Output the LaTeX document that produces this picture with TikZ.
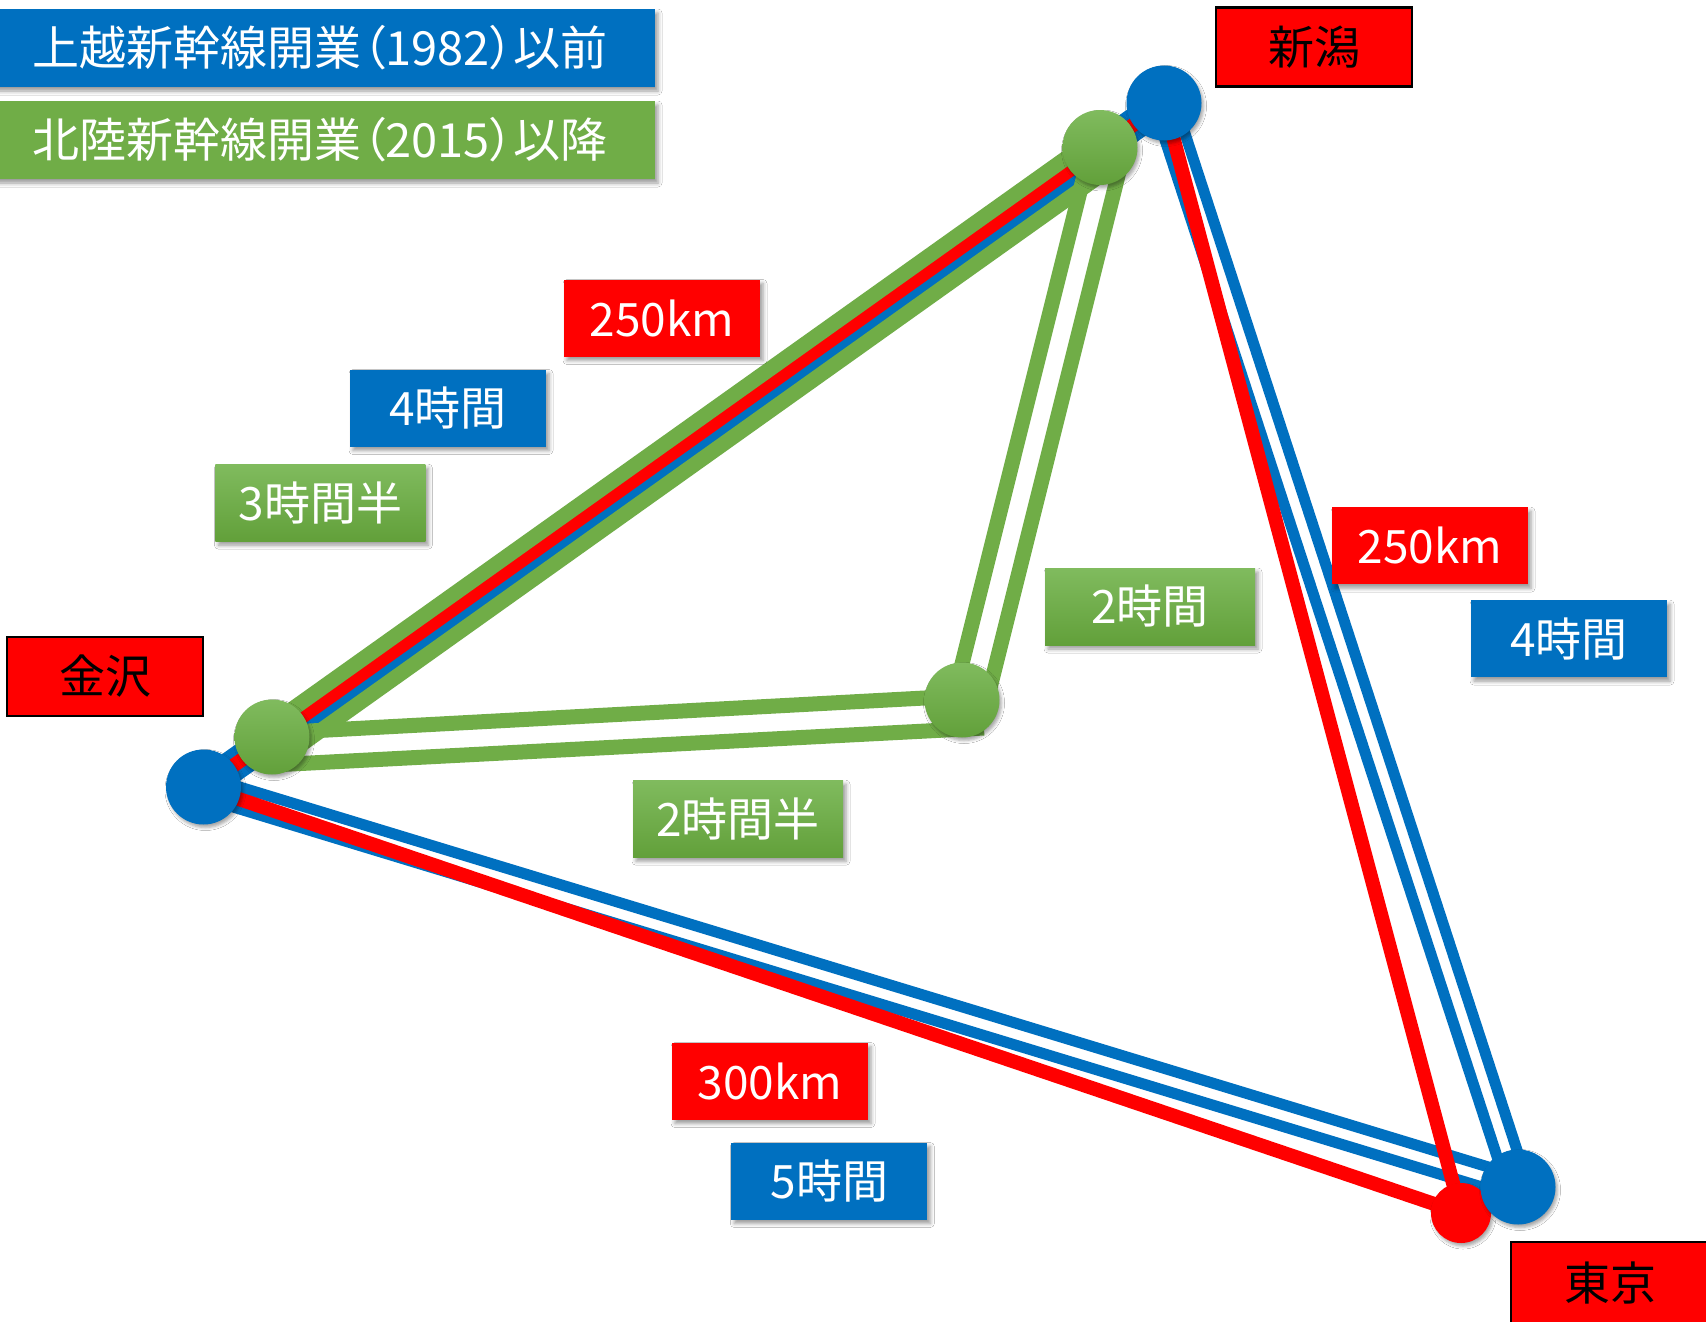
\documentclass[tikz,border=0pt]{standalone}
\usepackage{fontspec}
\setmainfont{Noto Sans CJK JP}
\newfontfamily\jpp{Noto Sans CJK JP}[RawFeature=+palt]
\usetikzlibrary{calc,shadows.blur}
\definecolor{cblue}{HTML}{0070C0}
\definecolor{cred}{HTML}{FF0000}
\definecolor{cgreen}{HTML}{70AD47}
\definecolor{cgtop}{HTML}{80BB5E}
\definecolor{cgbot}{HTML}{62A03A}
\tikzset{
  softshadow/.style={blur shadow={shadow xshift=3pt, shadow yshift=-4pt, shadow blur radius=4pt, shadow opacity=40}},
  lbl/.style={minimum width=196pt, minimum height=77pt, inner sep=0pt, text=white,
    font=\fontsize{46pt}{50pt}\selectfont, softshadow},
  redlbl/.style={lbl, fill=cred},
  bluelbl/.style={lbl, fill=cblue},
  greenlbl/.style={lbl, minimum width=210pt, top color=cgtop, bottom color=cgbot},
  place/.style={draw=black, line width=2.5pt, fill=cred, minimum width=196pt, minimum height=79pt,
    inner sep=0pt, text=black, font=\fontsize{46pt}{50pt}\selectfont},
  legendbox/.style={minimum width=670pt, minimum height=78pt, inner sep=0pt, text=white,
    font=\jpp\fontsize{47pt}{50pt}\selectfont, softshadow},
  bline/.style={draw=cblue, line width=11pt},
  rline/.style={draw=cred, line width=14pt},
  gline/.style={draw=cgreen, line width=15pt},
  stn/.style={circle, minimum size=75pt, inner sep=0pt,
    blur shadow={shadow xshift=2pt, shadow yshift=-3pt, shadow blur radius=3pt, shadow opacity=35}},
  bstn/.style={stn, fill=cblue},
  rstn/.style={stn, fill=cred, minimum size=60pt},
  gstn/.style={stn, top color=cgtop, bottom color=cgbot},
}
\begin{document}
\begin{tikzpicture}[x=1pt,y=-1pt]
\useasboundingbox[fill=white] (0,0) rectangle (1706,1322);
% station centres
\coordinate (bK) at (203.5,787);
\coordinate (bN) at (1164,103);
\coordinate (bT) at (1518,1187);
\coordinate (rT) at (1461,1213);
\coordinate (gK) at (272,737);
\coordinate (gN) at (1100,147.5);
\coordinate (gM) at (962,700);
% blue double lines (before 1982)
\draw[bline] ($(bK)+(3.06,-10.05)$) -- ($(bT)+(3.06,-10.05)$);
\draw[bline] ($(bK)+(-3.06,10.05)$) -- ($(bT)+(-3.06,10.05)$);
\draw[bline] ($(bN)+(9.98,-3.26)$) -- ($(bT)+(9.98,-3.26)$);
\draw[bline] ($(bN)+(-9.98,3.26)$) -- ($(bT)+(-9.98,3.26)$);
\draw[bline] ($(bK)+(6.09,8.55)$) -- ($(bN)+(6.09,8.55)$);
\draw[bline] ($(bK)+(-6.09,-8.55)$) -- ($(bN)+(-6.09,-8.55)$);
% red distance lines
\draw[rline] (bK) -- (bN);
\draw[rline] (bN) -- (rT);
\draw[rline] (bK) -- (rT);
% green double lines (after 2015)
\draw[gline] ($(gK)+(-6.38,-8.96)$) -- ($(gN)+(-6.38,-8.96)$);
\draw[gline] ($(gK)+(13.34,18.74)$) -- ($(gN)+(13.34,18.74)$);
\draw[gline] ($(gN)+(-9,0)$) -- ($(gM)+(-9,0)$);
\draw[gline] ($(gN)+(25,0)$) -- ($(gM)+(25,0)$);
\draw[gline] ($(gK)+(0,-4)$) -- ($(gM)+(0,-4)$);
\draw[gline] ($(gK)+(0,28)$) -- ($(gM)+(22,28)$);
% stations
\node[bstn] (bKc) at (bK) {};
\node[gstn] (gKc) at (gK) {};
\node[gstn] (gMc) at (gM) {};
\node[gstn] (gNc) at (gN) {};
\node[bstn] (bNc) at (bN) {};
\node[rstn] (rTc) at (rT) {};
\node[bstn] (bTc) at (bT) {};
% legend
\node[legendbox, fill=cblue] (leg1) at (320,48) {上越新幹線開業（1982）以前};
\node[legendbox, fill=cgreen] (leg2) at (320,140) {北陸新幹線開業（2015）以降};
% place names
\node[place] (niigata) at (1314,47) {新潟};
\node[place] (kanazawa) at (105,676.5) {金沢};
\node[place, minimum width=198pt, minimum height=82pt] (tokyo) at (1610,1283) {東京};
% labels
\node[redlbl] (d1) at (662,318) {250km};
\node[bluelbl] (t1) at (448,408) {4時間};
\node[greenlbl] (g1) at (320.4,502.6) {3時間半};
\node[greenlbl] (g2) at (1150,606.5) {2時間};
\node[redlbl] (d2) at (1430,545.7) {250km};
\node[bluelbl] (t2) at (1569,638.6) {4時間};
\node[greenlbl] (g3) at (738,818.7) {2時間半};
\node[redlbl] (d3) at (770,1081) {300km};
\node[bluelbl] (t3) at (829.3,1181) {5時間};
\end{tikzpicture}
\end{document}
